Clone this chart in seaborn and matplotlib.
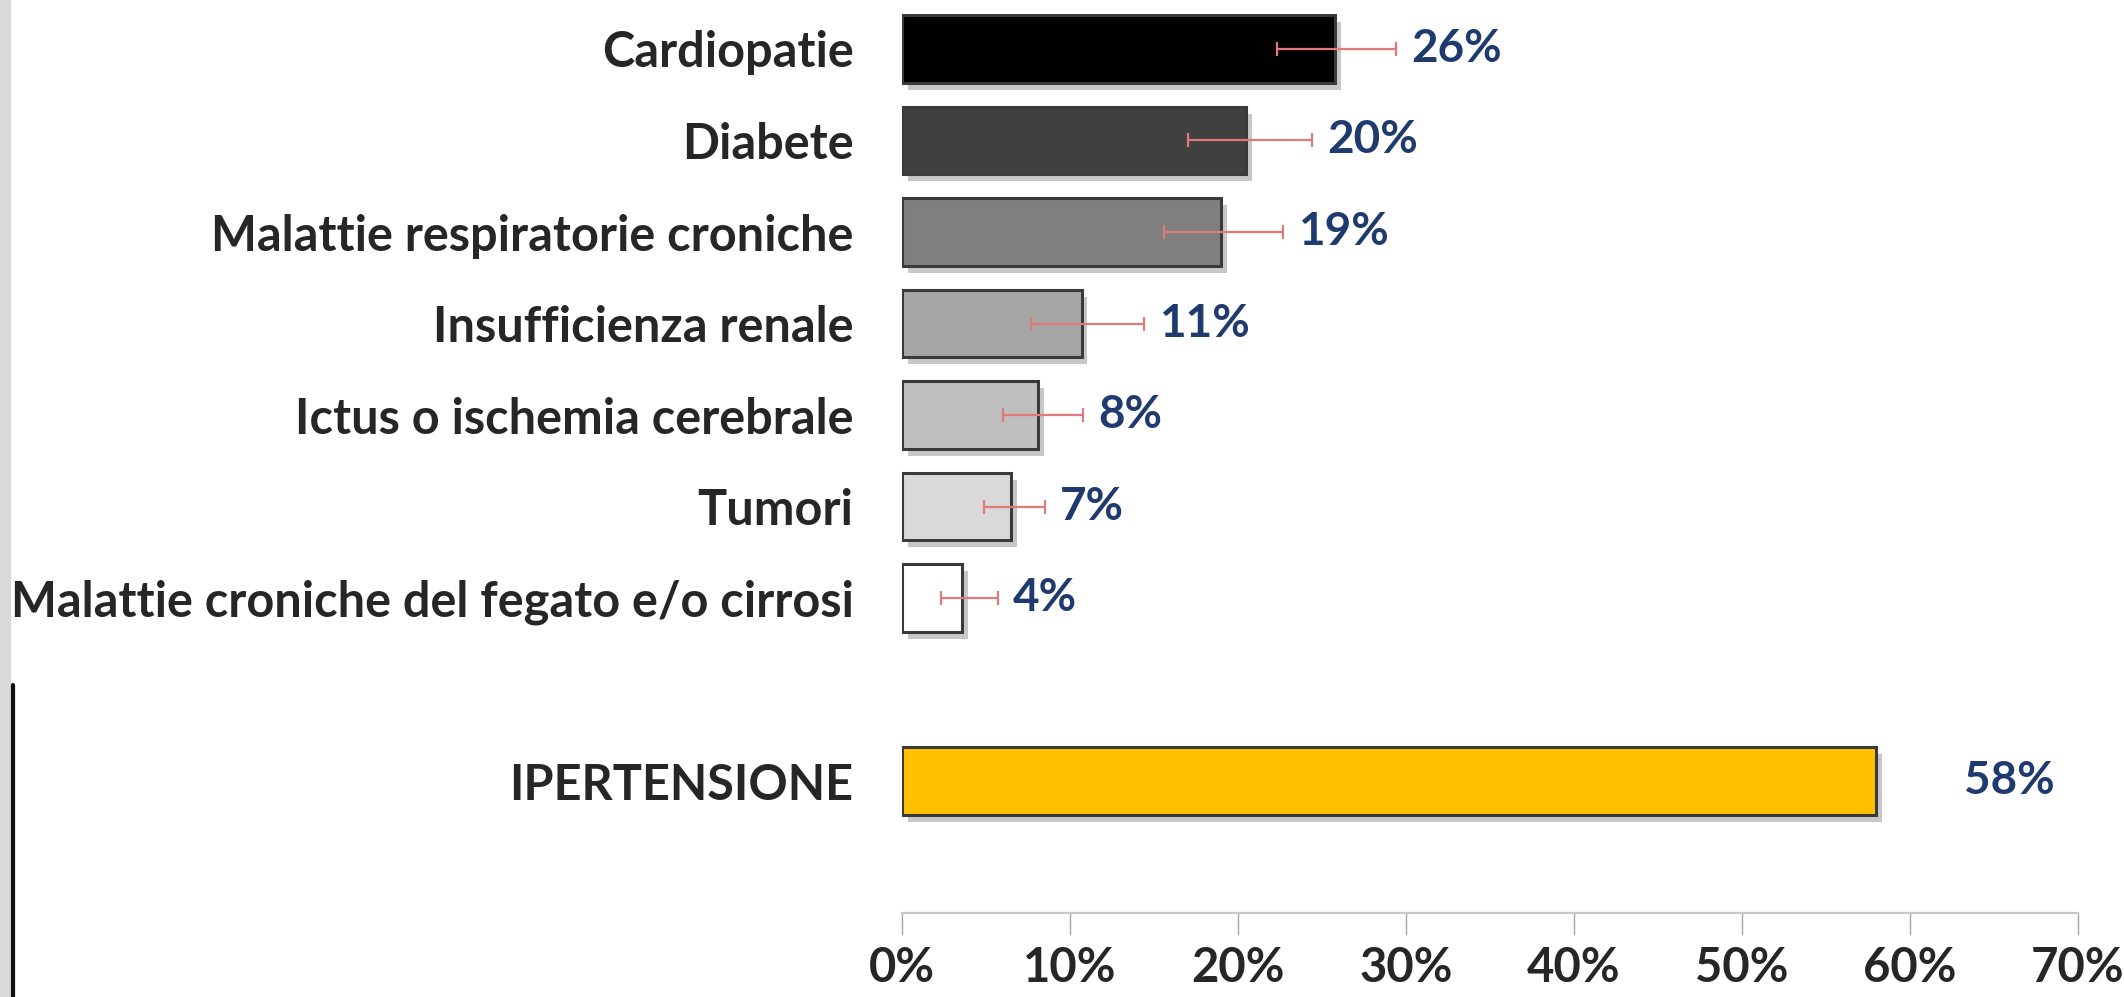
import matplotlib
matplotlib.use("Agg")
import matplotlib.pyplot as plt
import matplotlib.patheffects as pe
from matplotlib.patches import Rectangle
from matplotlib.lines import Line2D
import numpy as np
import pandas as pd
import seaborn as sns

# Dati
categorie = ["Cardiopatie", "Diabete", "Malattie respiratorie croniche", "Insufficienza renale",
             "Ictus o ischemia cerebrale", "Tumori", "Malattie croniche del fegato e/o cirrosi",
             "IPERTENSIONE"]
valori = [25.8, 20.5, 19.0, 10.7, 8.1, 6.5, 3.6, 58.0]
etichette = ["26%", "20%", "19%", "11%", "8%", "7%", "4%", "58%"]
err_basso = [22.3, 17.0, 15.6, 7.7, 6.0, 4.9, 2.3, np.nan]
err_alto = [29.4, 24.4, 22.7, 14.4, 10.8, 8.5, 5.7, np.nan]
colori = ["#000000", "#404040", "#7f7f7f", "#a6a6a6", "#bfbfbf", "#d9d9d9", "#ffffff", "#ffc000"]
tick_x = [0, 10, 20, 30, 40, 50, 60, 70]

df = pd.DataFrame({"categoria": categorie, "valore": valori})
# riga vuota tra le comorbidità e l'ipertensione
ordine = categorie[:7] + [" "] + categorie[7:]

sns.set_style("white")
plt.rcParams["font.family"] = ["Lato", "DejaVu Sans"]

fig = plt.figure(figsize=(21.24, 9.97), dpi=100)
ax = fig.add_axes([902 / 2124, 84 / 997, (2078 - 902) / 2124, 913 / 997])

sns.barplot(data=df, x="valore", y="categoria", hue="categoria", order=ordine,
            palette=dict(zip(categorie, colori)), legend=False, width=0.74, saturation=1,
            edgecolor="#3a3a3a", linewidth=2.2, ax=ax)

for bar in ax.patches:
    bar.set_path_effects([pe.SimplePatchShadow(offset=(4, -5), shadow_rgbFace="#000000", alpha=0.22),
                          pe.Normal()])

# barre di errore e etichette dei valori
pos = {lab.get_text(): y for lab, y in zip(ax.get_yticklabels(), ax.get_yticks())}
for cat, v, lo, hi, lab in zip(categorie, valori, err_basso, err_alto, etichette):
    y = pos[cat]
    if not np.isnan(lo):
        ax.errorbar([v], [y], xerr=[[v - lo], [hi - v]], fmt="none", ecolor="#e07a7a",
                    elinewidth=1.6, capsize=5, capthick=1.6, zorder=5)
        xt = hi + 0.9
    else:
        xt = v + 5.2
    ax.text(xt, y, lab, ha="left", va="center", color="#1f3a6e", fontsize=33,
            fontweight="bold")

ax.set_xlim(0, 70)
ax.set_ylim(9.44, -0.535)
ax.set_xticks(tick_x)
ax.set_xticklabels([f"{t}%" for t in tick_x])
ax.set_xlabel("")
ax.set_ylabel("")

for s in ["top", "right", "left"]:
    ax.spines[s].set_visible(False)
ax.spines["bottom"].set_color("#c8c8c8")
ax.spines["bottom"].set_linewidth(1.6)

ax.tick_params(axis="x", direction="out", length=16, width=1, color="#a6a6a6", pad=8,
               labelsize=34, labelcolor="#262626", bottom=True)
ax.tick_params(axis="y", length=0, pad=35, labelsize=35, labelcolor="#262626")
for t in ax.get_xticklabels() + ax.get_yticklabels():
    t.set_fontweight("bold")

# bordo grigio e linea nera a sinistra
fig.patches.append(Rectangle((0, 0), 10 / 2124, 1, transform=fig.transFigure,
                             color="#d9d9d9", zorder=0))
fig.lines.append(Line2D([13 / 2124, 13 / 2124], [0, (997 - 685) / 997],
                        transform=fig.transFigure, color="#111111", linewidth=3))

fig.savefig("out.png", dpi=100)
